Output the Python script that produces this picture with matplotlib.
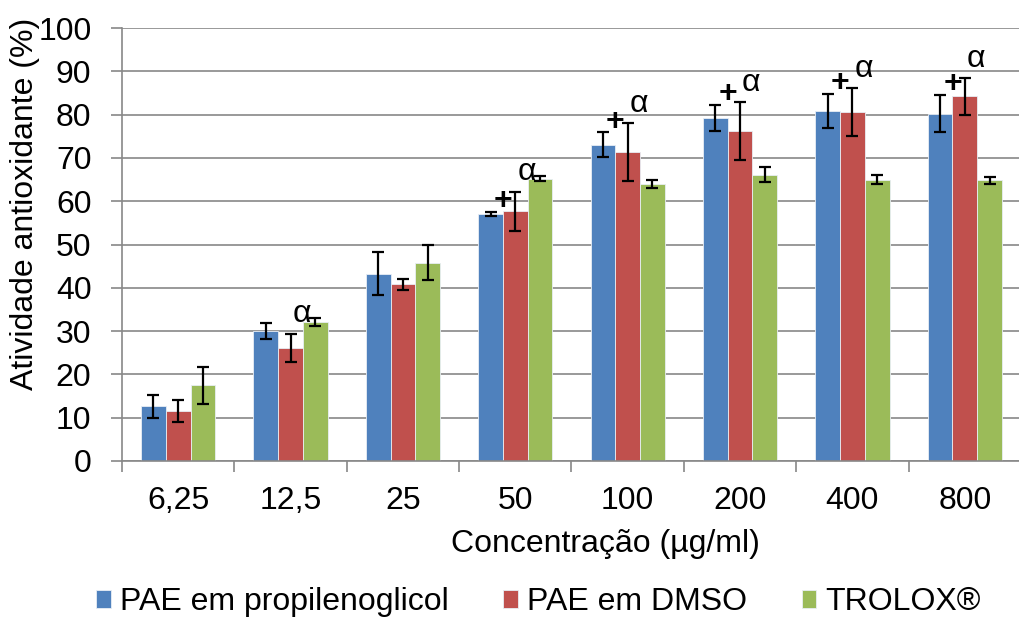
import matplotlib
matplotlib.use("Agg")
import matplotlib.pyplot as plt
import numpy as np

plt.rcParams['font.family'] = ['Liberation Sans', 'DejaVu Sans']

# concentrations (ug/ml) and antioxidant activity (%)
concentracoes = ['6,25', '12,5', '25', '50', '100', '200', '400', '800']
pae_propileno = [12.6, 30.0, 43.3, 57.0, 73.0, 79.2, 80.8, 80.2]
pae_propileno_dp = [2.7, 1.8, 5.0, 0.5, 2.9, 3.1, 3.9, 4.3]
pae_dmso = [11.5, 26.1, 40.8, 57.7, 71.3, 76.2, 80.6, 84.2]
pae_dmso_dp = [2.6, 3.3, 1.2, 4.5, 6.7, 6.6, 5.5, 4.2]
trolox = [17.5, 32.1, 45.8, 65.2, 63.9, 66.1, 65.0, 64.8]
trolox_dp = [4.3, 0.9, 4.0, 0.6, 0.9, 1.7, 1.1, 0.9]

# groups marked with significance symbols
grupos_alfa = [1, 3, 4, 5, 6, 7]
grupos_mais = [3, 4, 5, 6, 7]

series = [
    ('PAE em propilenoglicol', pae_propileno, pae_propileno_dp, '#4F81BD'),
    ('PAE em DMSO', pae_dmso, pae_dmso_dp, '#C0504D'),
    ('TROLOX®', trolox, trolox_dp, '#9BBB59'),
]

FS = 23
W, H = 1020, 619
fig = plt.figure(figsize=(W / 100, H / 100), dpi=100)
ax = fig.add_axes([122 / W, 1 - 461 / H, (1021 - 122) / W, (461 - 28) / H])

x = np.arange(len(concentracoes))
largura = 0.22
for k, (nome, vals, dp, cor) in enumerate(series):
    pos = x + (k - 1) * largura
    ax.bar(pos, vals, largura, color=cor, edgecolor='#e8eef5', linewidth=0.6,
           label=nome, zorder=2)
    ax.errorbar(pos, vals, yerr=dp, fmt='none', ecolor='black', elinewidth=1.6,
                capsize=4.5, capthick=1.6, zorder=3)

for i in grupos_alfa:
    ax.text(i + 0.1, pae_dmso[i] + pae_dmso_dp[i] + 4.5, 'α', fontsize=FS,
            ha='center', va='center', zorder=4)
for i in grupos_mais:
    ax.text(i - 0.11, pae_propileno[i] + pae_propileno_dp[i] + 2.5, '+',
            fontsize=FS, fontweight='bold', ha='center', va='center', zorder=4)

ax.set_xlim(-0.5, len(concentracoes) - 0.5)
ax.set_ylim(0, 100)
ax.set_yticks(np.arange(0, 101, 10))
ax.yaxis.grid(True, color='#888888', linewidth=1.2, zorder=0)
ax.set_axisbelow(True)

ax.set_xticks(x)
ax.set_xticklabels(concentracoes)
ax.set_xticks(np.arange(-0.5, len(concentracoes), 1), minor=True)
ax.tick_params(axis='x', which='major', length=0, pad=18, labelsize=FS)
ax.tick_params(axis='x', which='minor', length=8, width=1.2, color='#888888')
ax.tick_params(axis='y', length=8, width=1.2, color='#888888', labelsize=FS, pad=14)

for s in ['top', 'right']:
    ax.spines[s].set_visible(False)
for s in ['left', 'bottom']:
    ax.spines[s].set_color('#888888')
    ax.spines[s].set_linewidth(1.2)

ax.set_xlabel('Concentração (µg/ml)', fontsize=FS)
ax.xaxis.set_label_coords(0.538, -0.157)
ax.set_ylabel('Atividade antioxidante (%)', fontsize=FS)
ax.yaxis.set_label_coords(-0.091, 0.594)

fig.legend(loc='center', bbox_to_anchor=(0.528, 1 - 602 / H), ncol=3,
           frameon=False, fontsize=FS, handlelength=0.45, handleheight=0.5,
           handletextpad=0.3, columnspacing=1.7)

fig.savefig('out.png', dpi=100)
